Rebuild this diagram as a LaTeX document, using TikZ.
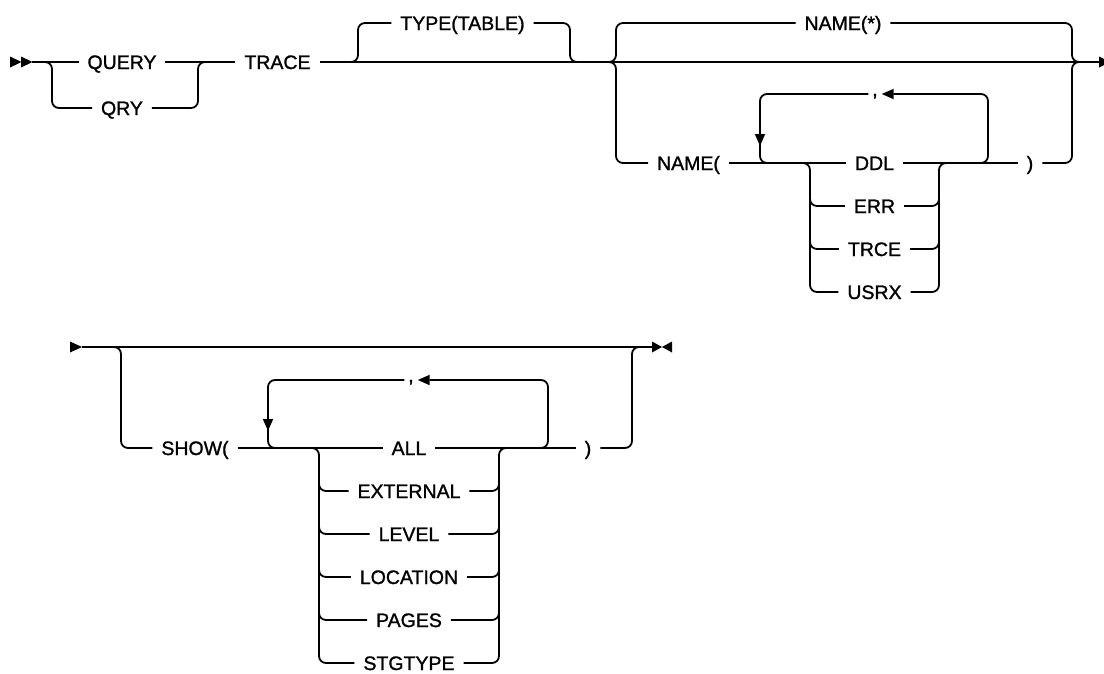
\documentclass[tikz,border=0pt]{standalone}
\usepackage{fontspec}
\setmainfont{Liberation Sans}
\newfontfamily\kwfont{Liberation Sans}[FakeBold=1.2]
\usetikzlibrary{arrows.meta}
\begin{document}
\begin{tikzpicture}[x=1pt,y=-1pt,
  ln/.style={line width=1.8pt},
  rr/.style={line width=1.8pt, rounded corners=7pt},
  kw/.style={font=\kwfont\fontsize{19.5}{20}\selectfont, text height=14pt, text depth=0pt, inner xsep=9pt, inner ysep=0pt, outer sep=0pt},
  sepc/.style={font=\kwfont\fontsize{19.5}{20}\selectfont, text height=6pt, text depth=2pt, inner xsep=4pt, inner ysep=0pt, outer sep=0pt},
  tipr/.style={-{Triangle[length=12pt,width=10pt]}},
]
\useasboundingbox (0,0) rectangle (1104,673);

% ---------- top row ----------
\node[kw] (query) at (122,62) {QUERY};
\node[kw] (qry) at (122,108) {QRY};
\node[kw] (trace) at (277.5,62) {TRACE};
\node[kw] (typetable) at (462.5,23) {TYPE(TABLE)};
\node[kw] (namestar) at (843,23) {NAME(*)};
\node[kw] (nameopen) at (688.5,163) {NAME(};
\node[sepc] (comma1) at (875,94) {,};
\node[kw] (ddl) at (874.5,163) {DDL};
\node[kw] (err) at (874.5,206) {ERR};
\node[kw] (trce) at (874.5,249) {TRCE};
\node[kw] (usrx) at (874.5,292) {USRX};
\node[kw] (rp1) at (1030,163) {)};

\coordinate (s1) at (32,62);
\coordinate (e1) at (1100,62);

\fill (10,56.5) -- (21.5,62) -- (10,67.5) -- cycle;
\fill (21,56.5) -- (32.5,62) -- (21,67.5) -- cycle;
\fill (1099,56.5) -- (1110,62) -- (1099,67.5) -- cycle;

\draw[ln] (s1) -- (query.west);
\draw[ln] (query.east) -- (trace.west);
\draw[ln] (trace.east) -- (e1);
\draw[rr] (40,62) -- (52,62) -- (52,108) -- (qry.west);
\draw[rr] (qry.east) -- (198,108) -- (198,62) -- (210,62);
\draw[rr] (346,62) -- (358,62) -- (358,23) -- (typetable.west);
\draw[rr] (typetable.east) -- (570,23) -- (570,62) -- (582,62);
\draw[rr] (604,62) -- (616,62) -- (616,23) -- (namestar.west);
\draw[rr] (namestar.east) -- (1072,23) -- (1072,62) -- (1084,62);
\draw[rr] (604,62) -- (616,62) -- (616,163) -- (nameopen.west);
\draw[rr] (rp1.east) -- (1072,163) -- (1072,62) -- (1084,62);
\draw[ln] (nameopen.east) -- (ddl.west);
\draw[ln] (ddl.east) -- (rp1.west);
% repeat loop
\draw[rr,tipr] (comma1.west) -- (760,94) -- (760,146);
\draw[rr] (760,140) -- (760,163) -- (775,163);
\draw[rr,tipr] (976,163) -- (988,163) -- (988,94) -- (comma1.east);
% choices
\draw[rr] (798,163) -- (810,163) -- (810,292) -- (usrx.west);
\draw[rr] (usrx.east) -- (939,292) -- (939,163) -- (951,163);
\foreach \n/\y in {err/206, trce/249}{
  \draw[rr] (810,\y-18) -- (810,\y) -- (\n.west);
  \draw[rr] (\n.east) -- (939,\y) -- (939,\y-18);
}

% ---------- bottom row ----------
\node[kw] (show) at (195,448) {SHOW(};
\node[sepc] (comma2) at (411,380) {,};
\node[kw] (all) at (409,448) {ALL};
\node[kw] (external) at (409,491) {EXTERNAL};
\node[kw] (level) at (409,534) {LEVEL};
\node[kw] (location) at (409,577) {LOCATION};
\node[kw] (pages) at (409,620) {PAGES};
\node[kw] (stgtype) at (409,663) {STGTYPE};
\node[kw] (rp2) at (588,448) {)};

\coordinate (s2) at (82,347);
\coordinate (e2) at (652,347);

\fill (70,341.5) -- (82,347) -- (70,352.5) -- cycle;
\fill (652,341.5) -- (662,347) -- (652,352.5) -- cycle;
\fill (672,341.5) -- (662,347) -- (672,352.5) -- cycle;

\draw[ln] (s2) -- (e2);
\draw[rr] (109,347) -- (121,347) -- (121,448) -- (show.west);
\draw[ln] (show.east) -- (all.west);
\draw[ln] (all.east) -- (rp2.west);
\draw[rr] (rp2.east) -- (632,448) -- (632,347) -- (644,347);
% repeat loop
\draw[rr,tipr] (comma2.west) -- (268,380) -- (268,431);
\draw[rr] (268,425) -- (268,448) -- (283,448);
\draw[rr,tipr] (536,448) -- (548,448) -- (548,380) -- (comma2.east);
% choices
\draw[rr] (307,448) -- (319,448) -- (319,663) -- (stgtype.west);
\draw[rr] (stgtype.east) -- (499,663) -- (499,448) -- (511,448);
\foreach \n/\y in {external/491, level/534, location/577, pages/620}{
  \draw[rr] (319,\y-18) -- (319,\y) -- (\n.west);
  \draw[rr] (\n.east) -- (499,\y) -- (499,\y-18);
}
\end{tikzpicture}
\end{document}
